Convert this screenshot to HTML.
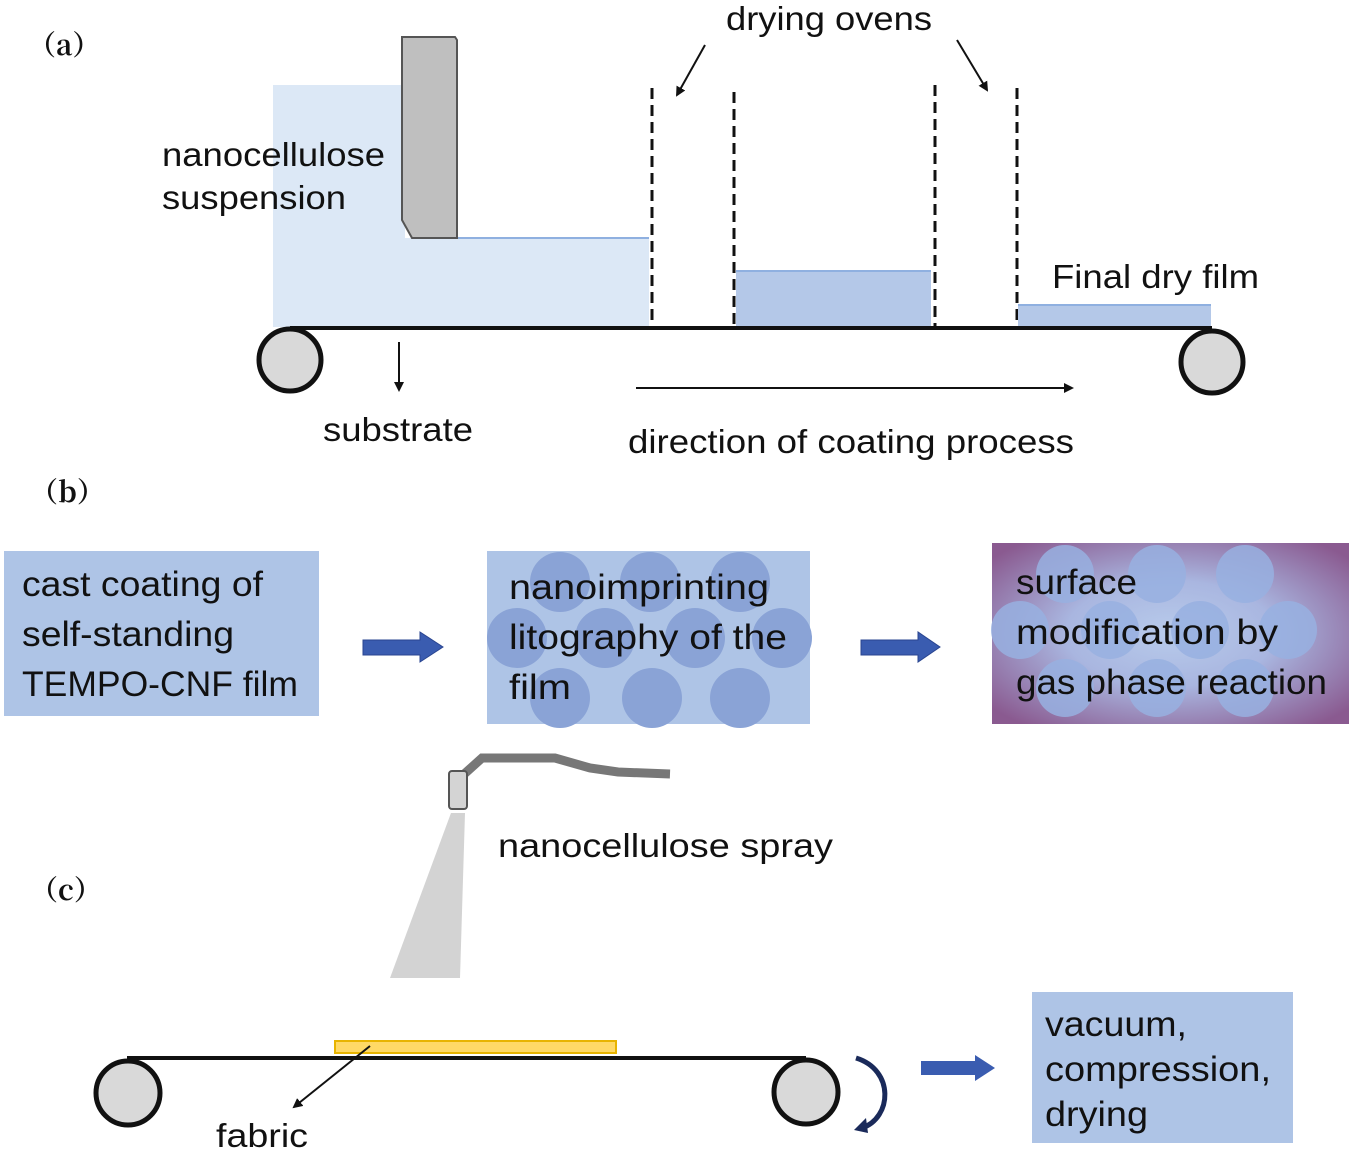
<!DOCTYPE html>
<html><head><meta charset="utf-8"><style>
html,body{margin:0;padding:0;background:#fff;}
svg{display:block;}
.t{font-family:"Liberation Sans",Arial,sans-serif;font-size:33px;fill:#111;}
.c{font-family:"Liberation Sans",sans-serif;font-size:35px;fill:#111;}
.l{font-family:"Noto Serif CJK SC","Liberation Serif",serif;font-weight:bold;font-size:28px;fill:#111;}
</style></head><body>
<svg width="1355" height="1153" viewBox="0 0 1355 1153" xmlns="http://www.w3.org/2000/svg">
<defs>
<marker id="ah" markerWidth="10" markerHeight="10" refX="8" refY="5" orient="auto" markerUnits="userSpaceOnUse"><path d="M0,0 L10,5 L0,10 Z" fill="#111"/></marker>
<radialGradient id="pg" cx="50%" cy="50%" r="65%"><stop offset="0" stop-color="#b8cbeb"/><stop offset="0.45" stop-color="#a9b6e0"/><stop offset="1" stop-color="#8a5a90"/></radialGradient>
</defs>
<!-- (a) -->
<text class="l" x="28" y="55">（a）</text>
<rect x="273" y="85" width="132" height="242" fill="#dce8f6"/>
<rect x="398" y="238" width="251" height="89" fill="#dce8f6"/>
<line x1="455" y1="238" x2="649" y2="238" stroke="#8fb0e0" stroke-width="2"/>
<polygon points="402,37 455,37 457,40 457,238 412,238 402,220" fill="#bfbfbf" stroke="#555" stroke-width="2"/>
<g stroke="#111" stroke-width="3" stroke-dasharray="11,6">
<line x1="652" y1="88" x2="652" y2="327"/><line x1="734" y1="92" x2="734" y2="327"/>
<line x1="935" y1="85" x2="935" y2="327"/><line x1="1017" y1="88" x2="1017" y2="327"/>
</g>
<rect x="736" y="270" width="195" height="57" fill="#b4c8e8"/>
<line x1="736" y1="271" x2="931" y2="271" stroke="#8fb0e0" stroke-width="2"/>
<rect x="1018" y="304" width="193" height="22" fill="#b4c8e8"/>
<line x1="1018" y1="305" x2="1211" y2="305" stroke="#8fb0e0" stroke-width="2"/>
<line x1="290" y1="328" x2="1212" y2="328" stroke="#111" stroke-width="4"/>
<circle cx="290" cy="360" r="31" fill="#d9d9d9" stroke="#111" stroke-width="5"/>
<circle cx="1212" cy="362" r="31" fill="#d9d9d9" stroke="#111" stroke-width="5"/>
<line x1="705" y1="45" x2="677" y2="95" stroke="#111" stroke-width="2" marker-end="url(#ah)"/>
<line x1="957" y1="40" x2="987" y2="90" stroke="#111" stroke-width="2" marker-end="url(#ah)"/>
<text class="t" x="726" y="30" textLength="206" lengthAdjust="spacingAndGlyphs">drying ovens</text>
<text class="t" x="162" y="166" textLength="223" lengthAdjust="spacingAndGlyphs">nanocellulose</text>
<text class="t" x="162" y="209" textLength="184" lengthAdjust="spacingAndGlyphs">suspension</text>
<line x1="399" y1="342" x2="399" y2="390" stroke="#111" stroke-width="2" marker-end="url(#ah)"/>
<text class="t" x="323" y="441" textLength="150" lengthAdjust="spacingAndGlyphs">substrate</text>
<line x1="636" y1="388" x2="1072" y2="388" stroke="#111" stroke-width="2" marker-end="url(#ah)"/>
<text class="t" x="628" y="453" textLength="446" lengthAdjust="spacingAndGlyphs">direction of coating process</text>
<text class="t" x="1052" y="288" textLength="207" lengthAdjust="spacingAndGlyphs">Final dry film</text>
<!-- (b) -->
<text class="l" x="30" y="502">（b）</text>
<rect x="4" y="551" width="315" height="165" fill="#aec4e6"/>
<text class="c" x="22" y="596" textLength="241" lengthAdjust="spacingAndGlyphs">cast coating of</text>
<text class="c" x="22" y="646" textLength="212" lengthAdjust="spacingAndGlyphs">self-standing</text>
<text class="c" x="22" y="696" textLength="276" lengthAdjust="spacingAndGlyphs">TEMPO-CNF film</text>
<polygon points="363,640 420,640 420,632 443,647 420,662 420,655 363,655" fill="#3a5cb0" stroke="#2a4590" stroke-width="1"/>
<rect x="487" y="551" width="323" height="173" fill="#aec4e6"/>
<g fill="#8aa3d6">
<circle cx="560" cy="582" r="30"/><circle cx="650" cy="582" r="30"/><circle cx="740" cy="582" r="30"/>
<circle cx="517" cy="638" r="30"/><circle cx="605" cy="638" r="30"/><circle cx="695" cy="638" r="30"/><circle cx="782" cy="638" r="30"/>
<circle cx="560" cy="698" r="30"/><circle cx="652" cy="698" r="30"/><circle cx="740" cy="698" r="30"/>
</g>
<text class="c" x="509" y="599" textLength="260" lengthAdjust="spacingAndGlyphs">nanoimprinting</text>
<text class="c" x="509" y="649" textLength="278" lengthAdjust="spacingAndGlyphs">litography of the</text>
<text class="c" x="509" y="699" textLength="62" lengthAdjust="spacingAndGlyphs">film</text>
<polygon points="861,640 918,640 918,632 940,647 918,662 918,655 861,655" fill="#3a5cb0" stroke="#2a4590" stroke-width="1"/>
<rect x="992" y="543" width="357" height="181" fill="url(#pg)"/>
<g fill="#98b0e0" fill-opacity="0.85">
<circle cx="1065" cy="574" r="29"/><circle cx="1157" cy="574" r="29"/><circle cx="1245" cy="574" r="29"/>
<circle cx="1020" cy="630" r="29"/><circle cx="1110" cy="630" r="29"/><circle cx="1200" cy="630" r="29"/><circle cx="1288" cy="630" r="29"/>
<circle cx="1065" cy="688" r="29"/><circle cx="1157" cy="688" r="29"/><circle cx="1245" cy="688" r="29"/>
</g>
<text class="c" x="1016" y="594" textLength="121" lengthAdjust="spacingAndGlyphs">surface</text>
<text class="c" x="1016" y="644" textLength="262" lengthAdjust="spacingAndGlyphs">modification by</text>
<text class="c" x="1016" y="694" textLength="311" lengthAdjust="spacingAndGlyphs">gas phase reaction</text>
<!-- (c) -->
<path d="M462,776 L482,758 L555,758 L590,768 L618,772 L670,774" fill="none" stroke="#777" stroke-width="9"/>
<rect x="449" y="771" width="18" height="38" rx="3" fill="#d4d4d4" stroke="#555" stroke-width="2"/>
<polygon points="451,813 465,813 460,978 390,978" fill="#c8c8c8" opacity="0.8"/>
<text class="t" x="498" y="857" textLength="335" lengthAdjust="spacingAndGlyphs">nanocellulose spray</text>
<text class="l" x="30" y="900">（c）</text>
<line x1="127" y1="1058" x2="806" y2="1058" stroke="#111" stroke-width="4"/>
<rect x="335" y="1041" width="281" height="12" fill="#ffd966" stroke="#e8b400" stroke-width="2"/>
<circle cx="128" cy="1093" r="32" fill="#d9d9d9" stroke="#111" stroke-width="5"/>
<circle cx="806" cy="1092" r="32" fill="#d9d9d9" stroke="#111" stroke-width="5"/>
<line x1="370" y1="1046" x2="294" y2="1107" stroke="#111" stroke-width="2" marker-end="url(#ah)"/>
<text class="t" x="216" y="1147" textLength="92" lengthAdjust="spacingAndGlyphs">fabric</text>
<path d="M856,1058 C895,1070 892,1118 862,1128" fill="none" stroke="#1a2a5a" stroke-width="5"/>
<polygon points="854,1130 866,1118 868,1133" fill="#1a2a5a"/>
<polygon points="921,1061 975,1061 975,1055 995,1068 975,1081 975,1075 921,1075" fill="#3a5cb0"/>
<rect x="1032" y="992" width="261" height="151" fill="#aec4e6"/>
<text class="c" x="1045" y="1036" textLength="142" lengthAdjust="spacingAndGlyphs">vacuum,</text>
<text class="c" x="1045" y="1081" textLength="226" lengthAdjust="spacingAndGlyphs">compression,</text>
<text class="c" x="1045" y="1126" textLength="103" lengthAdjust="spacingAndGlyphs">drying</text>
</svg>
</body></html>
